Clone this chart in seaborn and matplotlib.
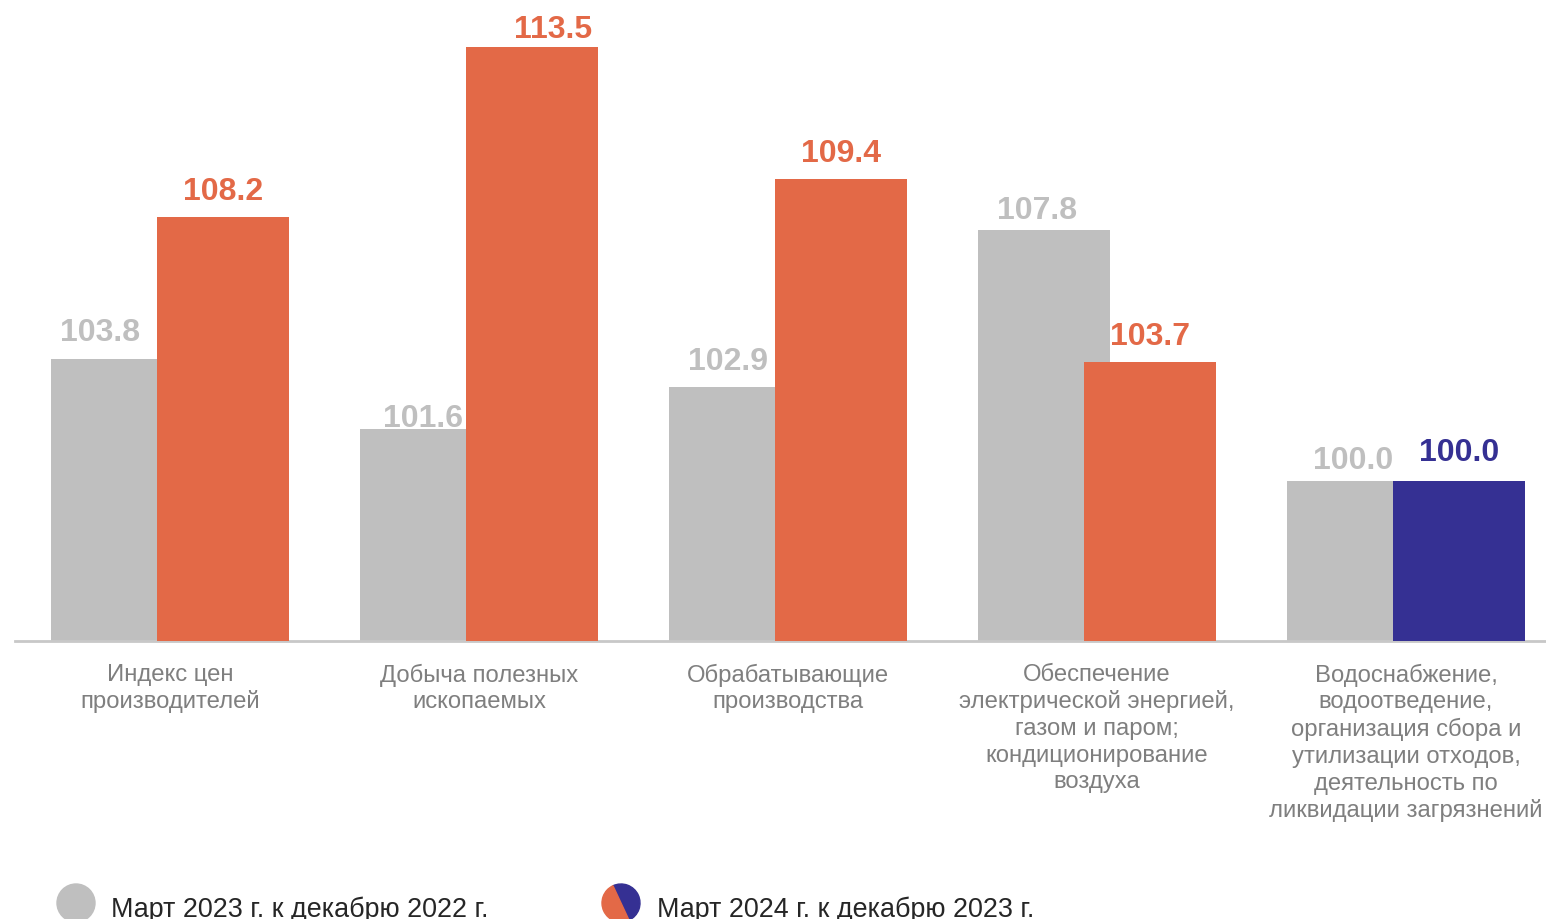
import numpy as np
import pandas as pd
import seaborn as sns
import matplotlib.pyplot as plt
from matplotlib.patches import Circle, Wedge

# Data
categories = [
    'Индекс цен\nпроизводителей',
    'Добыча полезных\nископаемых',
    'Обрабатывающие\nпроизводства',
    'Обеспечение\nэлектрической энергией,\nгазом и паром;\nкондиционирование\nвоздуха',
    'Водоснабжение,\nводоотведение,\nорганизация сбора и\nутилизации отходов,\nдеятельность по\nликвидации загрязнений',
]
mar_2023 = [103.8, 101.6, 102.9, 107.8, 100.0]
mar_2024 = [108.2, 113.5, 109.4, 103.7, 100.0]
legend_labels = ['Март 2023 г. к декабрю 2022 г.', 'Март 2024 г. к декабрю 2023 г.']

GREY = '#bfbfbf'
ORANGE = '#e36947'
BLUE = '#353093'
colors_2024 = [ORANGE, ORANGE, ORANGE, ORANGE, BLUE]

sns.set_style('white')
plt.rcParams['font.family'] = ['Liberation Sans', 'DejaVu Sans']

shift = 0.1715
bar_w = 0.427
idx = np.arange(len(categories))

df23 = pd.DataFrame({'pos': idx - shift, 'val': mar_2023})
df24 = pd.DataFrame({'pos': idx + shift, 'val': mar_2024, 'cat': [str(i) for i in idx]})

fig = plt.figure(figsize=(15.46, 9.2), dpi=100)
ax = fig.add_axes([15 / 1546, 1 - 642 / 920, 1 - 15 / 1546, 642 / 920])

sns.barplot(data=df23, x='pos', y='val', native_scale=True, width=bar_w,
            color=GREY, saturation=1, linewidth=0, ax=ax, zorder=2)
sns.barplot(data=df24, x='pos', y='val', hue='cat', native_scale=True, width=bar_w,
            palette=colors_2024, saturation=1, linewidth=0, dodge=False,
            legend=False, ax=ax, zorder=3)

ax.set_ylim(95, 115)
ax.set_xlim(-0.5016, 4.453)
ax.set_xticks(idx)
ax.set_xticklabels(categories, fontsize=17.2, color='#7f7f7f', linespacing=1.27)
ax.tick_params(axis='x', length=0, pad=15.5)
ax.set_yticks([])
ax.set_xlabel('')
ax.set_ylabel('')
for side in ['top', 'left', 'right']:
    ax.spines[side].set_visible(False)
ax.spines['bottom'].set_color('#c8c8c8')
ax.spines['bottom'].set_linewidth(2)

# value labels (small manual nudges in points, as in the original layout)
nudge_23 = [(-8, 0), (2, -11), (-1, 0), (-1, -4), (4, -4)]
nudge_24 = [(0, 0), (15, -6), (0, 0), (0, 0), (0, 2)]
for i, v in enumerate(mar_2023):
    dx, dy = nudge_23[i]
    ax.annotate(f'{v:.1f}', (i - shift, v), xytext=(dx - 4, 8 + dy), textcoords='offset points',
                ha='center', va='bottom', fontsize=23, fontweight='bold', color=GREY, zorder=4)
for i, v in enumerate(mar_2024):
    dx, dy = nudge_24[i]
    ax.annotate(f'{v:.1f}', (i + shift, v), xytext=(dx, 8 + dy), textcoords='offset points',
                ha='center', va='bottom', fontsize=23, fontweight='bold', color=colors_2024[i], zorder=4)

# legend drawn in pixel space
lax = fig.add_axes([0, 0, 1, 1], zorder=-1)
lax.set_xlim(0, 1546)
lax.set_ylim(920, 0)
lax.axis('off')
lax.add_patch(Circle((76, 904), 19, color=GREY))
lax.text(111, 917, legend_labels[0], fontsize=19.4, color='#262626', va='baseline')
lax.add_patch(Wedge((621, 904), 19, -115, 65, color=BLUE))
lax.add_patch(Wedge((621, 904), 19, 65, 245, color=ORANGE))
lax.text(657, 917, legend_labels[1], fontsize=19.4, color='#262626', va='baseline')

fig.savefig('out.png', dpi=100)
